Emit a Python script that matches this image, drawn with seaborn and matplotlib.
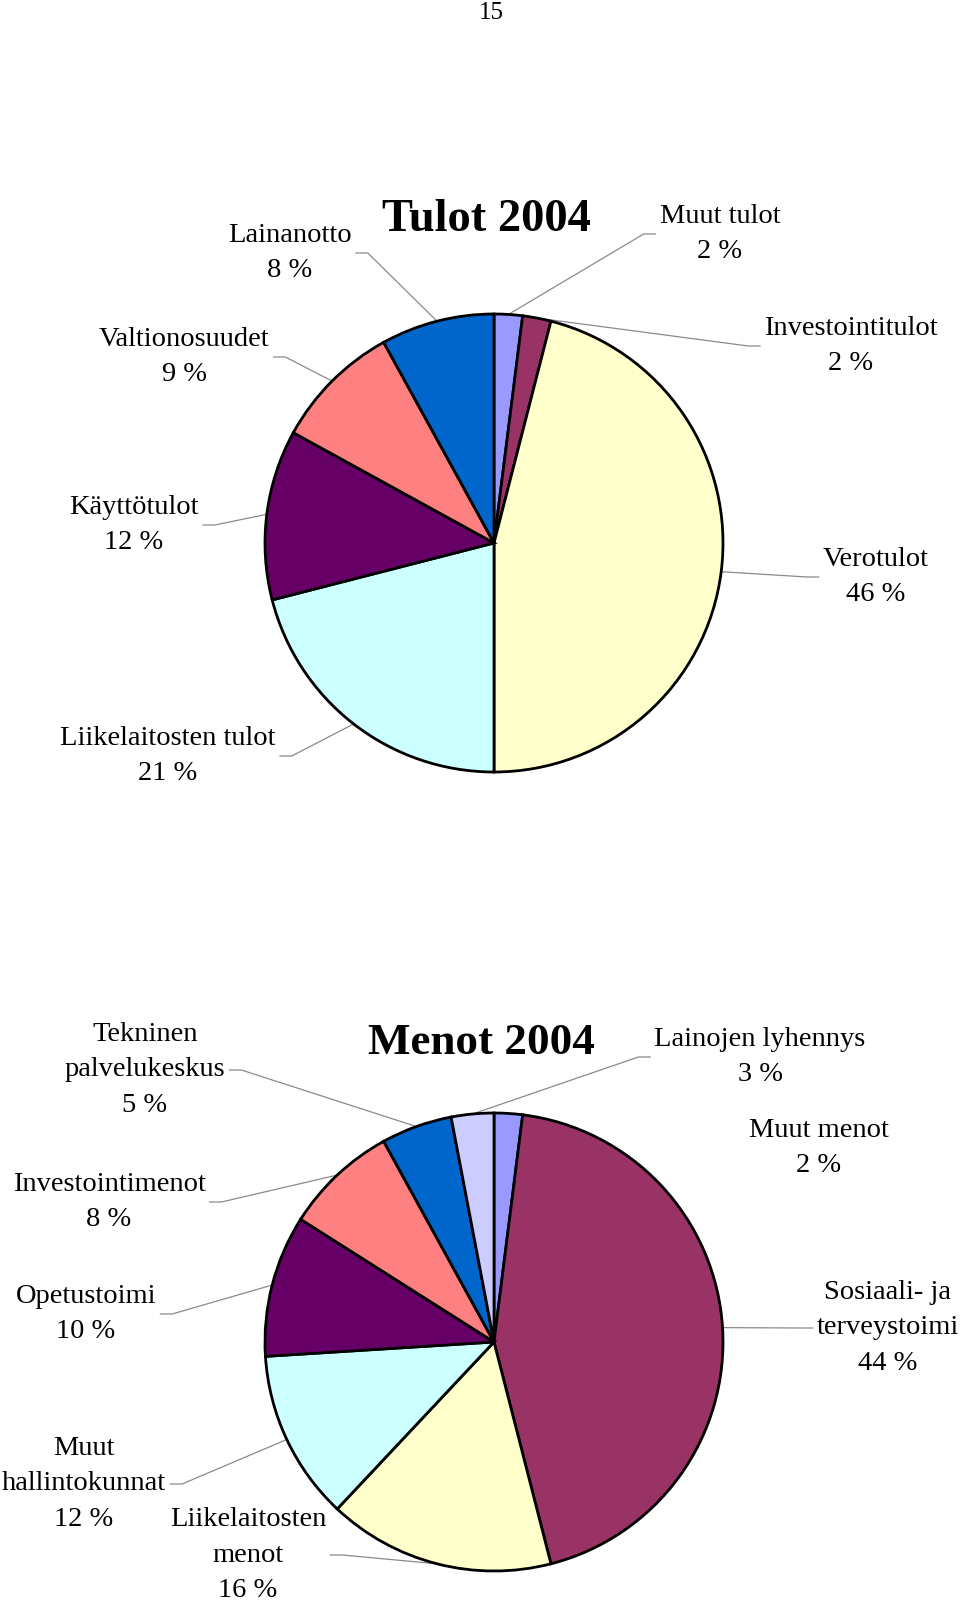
import matplotlib
matplotlib.use("Agg")
import matplotlib.pyplot as plt
from matplotlib.lines import Line2D
import numpy as np
import seaborn as sns

# ---------------- data ----------------
tulot_labels = ["Muut tulot", "Investointitulot", "Verotulot", "Liikelaitosten tulot",
                "Käyttötulot", "Valtionosuudet", "Lainanotto"]
tulot_values = [2, 2, 46, 21, 12, 9, 8]

menot_labels = ["Muut menot", "Sosiaali- ja\nterveystoimi", "Liikelaitosten\nmenot",
                "Muut\nhallintokunnat", "Opetustoimi", "Investointimenot",
                "Tekninen\npalvelukeskus", "Lainojen lyhennys"]
menot_values = [2, 44, 16, 12, 10, 8, 5, 3]

tulot_title = "Tulot 2004"
menot_title = "Menot 2004"
page_number = "15"

# ---------------- style ----------------
tulot_colors = ["#9999FF", "#993366", "#FFFFCC", "#CCFFFF", "#660066", "#FF8080", "#0066CC"]
menot_colors = ["#9999FF", "#993366", "#FFFFCC", "#CCFFFF", "#660066", "#FF8080", "#0066CC", "#CCCCFF"]

sns.set_theme(style="white")
plt.rcParams["font.family"] = ["Liberation Serif", "DejaVu Serif"]
plt.rcParams["text.color"] = "black"

W, H = 960, 1603
fig = plt.figure(figsize=(W / 100, H / 100), dpi=100)
fig.patch.set_facecolor("white")

R = 229
PAD = 1.03
LABEL_FS = 20.5
LINESP = 1.55


def fx(x):
    return x / W


def fy(y):
    return 1 - y / H


def make_pie(cx, cy, values, colors):
    ax = fig.add_axes([fx(cx - R * PAD), fy(cy + R * PAD), 2 * R * PAD / W, 2 * R * PAD / H])
    wedges, _ = ax.pie(values, colors=colors, startangle=90, counterclock=False,
                       radius=1, wedgeprops=dict(edgecolor="black", linewidth=2.0))
    ax.set_xlim(-PAD, PAD)
    ax.set_ylim(-PAD, PAD)
    ax.set_aspect("auto")
    ax.axis("off")
    return ax, wedges


# label positions (pixel centres) - layout only
tulot_pos = [(720, 234), (851, 346), (876, 577), (168, 756), (134, 525), (184, 357), (290, 253)]
menot_pos = [(819, 1148), (888, 1328), (248, 1555), (84, 1484), (86, 1314), (109, 1202),
             (145, 1070), (760, 1057)]
no_leader = {"Muut menot"}

ax1, w1 = make_pie(494, 543, tulot_values, tulot_colors)
ax2, w2 = make_pie(494, 1342, menot_values, menot_colors)

fig.text(fx(491), fy(13), page_number, ha="center", va="center", fontsize=18)
fig.text(fx(486), fy(220), tulot_title, ha="center", va="center", fontsize=33.5, fontweight="bold")
fig.text(fx(481), fy(1043), menot_title, ha="center", va="center", fontsize=32.5, fontweight="bold")

entries = []
for ax, wedges, labels, values, pos, cx in [
    (ax1, w1, tulot_labels, tulot_values, tulot_pos, 494),
    (ax2, w2, menot_labels, menot_values, menot_pos, 494),
]:
    for wdg, lab, val, (px, py) in zip(wedges, labels, values, pos):
        t = fig.text(fx(px), fy(py), f"{lab}\n{val} %", ha="center", va="center",
                     fontsize=LABEL_FS, linespacing=LINESP, multialignment="center")
        entries.append((ax, wdg, lab, t, px < cx))

fig.canvas.draw()
renderer = fig.canvas.get_renderer()
inv = fig.transFigure.inverted()
GAP, STUB = 4, 12
for ax, wdg, lab, t, left_side in entries:
    if lab in no_leader:
        continue
    bb = t.get_window_extent(renderer)
    ymid = (bb.y0 + bb.y1) / 2
    theta = np.deg2rad((wdg.theta1 + wdg.theta2) / 2)
    rim = ax.transData.transform((np.cos(theta), np.sin(theta)))
    if left_side:
        c = (bb.x1 + GAP, ymid)
        b = (c[0] + STUB, ymid)
    else:
        c = (bb.x0 - GAP, ymid)
        b = (c[0] - STUB, ymid)
    pts = inv.transform([c, b, rim])
    fig.add_artist(Line2D(pts[:, 0], pts[:, 1], transform=fig.transFigure,
                          color="#8a8a8a", linewidth=0.9, zorder=0))

fig.savefig("out.png", dpi=100, facecolor="white")
